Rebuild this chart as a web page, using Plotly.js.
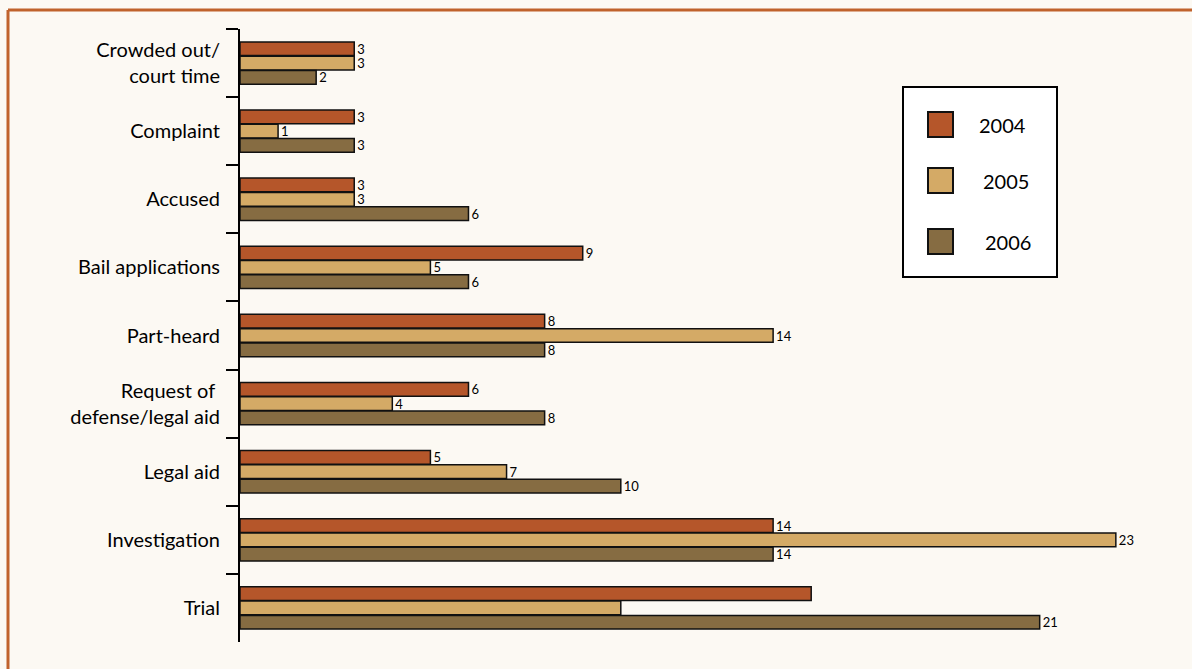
<!DOCTYPE html>
<html>
<head>
<meta charset="utf-8">
<script src="https://cdn.plot.ly/plotly-3.0.1.min.js"></script>
<style>html,body{margin:0;padding:0;background:#FCF9F3;}#chart{width:1192px;height:669px;}</style>
</head>
<body>
<div id="chart"></div>
<script>
// ---- data ----
const categories = ['Crowded out/<br>court time', 'Complaint', 'Accused', 'Bail applications', 'Part-heard',
  'Request of <br>defense/legal aid', 'Legal aid', 'Investigation', 'Trial'];
const seriesNames = ['2004', '2005', '2006'];
const values2004 = [3, 3, 3, 9, 8, 6, 5, 14, 15];
const values2005 = [3, 1, 3, 5, 14, 4, 7, 23, 10];
const values2006 = [2, 3, 6, 6, 8, 8, 10, 14, 21];
const labels2004 = ['3', '3', '3', '9', '8', '6', '5', '14', ''];
const labels2005 = ['3', '1', '3', '5', '14', '4', '7', '23', ''];
const labels2006 = ['2', '3', '6', '6', '8', '8', '10', '14', '21'];
const colors = ['#B5562A', '#D4AA66', '#866C42'];

const allValues = [values2004, values2005, values2006];
const allLabels = [labels2004, labels2005, labels2006];

const FONT = 'Lato, "Open Sans", sans-serif';

const traces = allValues.map((vals, i) => ({
  type: 'bar',
  orientation: 'h',
  name: seriesNames[i],
  x: vals,
  y: categories,
  text: allLabels[i],
  textposition: 'outside',
  cliponaxis: false,
  constraintext: 'none',
  textfont: {family: FONT, size: 13, color: '#000'},
  marker: {color: colors[i], line: {color: '#111', width: 1.5}},
  hoverinfo: 'x+y+name',
  showlegend: false
}));

// manual legend (built from series names/colors)
const plotL = 240, plotW = 952, plotT = 29, plotH = 613;
const px = v => (v - plotL) / plotW;
const py = v => (plotT + plotH - v) / plotH;

const shapes = [
  // page border
  {type: 'line', xref: 'paper', yref: 'paper', x0: px(8), x1: px(1192), y0: py(10), y1: py(10), line: {color: '#C0622C', width: 3}},
  {type: 'line', xref: 'paper', yref: 'paper', x0: px(8), x1: px(8), y0: py(10), y1: py(669), line: {color: '#C0622C', width: 3}},
  // legend box
  {type: 'rect', xref: 'paper', yref: 'paper', x0: px(903), x1: px(1057), y0: py(87), y1: py(277), line: {color: '#000', width: 2}, fillcolor: '#FFFFFF'}
];
const annotations = [];
const swatchTop = [112, 168, 229];
const textX = [1002, 1006, 1008];
seriesNames.forEach((n, i) => {
  shapes.push({type: 'rect', xref: 'paper', yref: 'paper', x0: px(928), x1: px(953), y0: py(swatchTop[i]), y1: py(swatchTop[i] + 25),
    line: {color: '#111', width: 2}, fillcolor: colors[i]});
  annotations.push({xref: 'paper', yref: 'paper', x: px(textX[i]), y: py(swatchTop[i] + 12.5), text: n, showarrow: false,
    xanchor: 'center', yanchor: 'middle', font: {family: FONT, size: 20, color: '#000'}});
});

const layout = {
  width: 1192, height: 669,
  margin: {l: plotL, r: 1192 - plotL - plotW, t: plotT, b: 669 - plotT - plotH, pad: 0},
  paper_bgcolor: '#FCF9F3',
  plot_bgcolor: 'rgba(0,0,0,0)',
  barmode: 'group',
  bargap: 0.37,
  bargroupgap: 0.04,
  showlegend: false,
  font: {family: FONT, color: '#000'},
  xaxis: {range: [0, 25], showgrid: false, zeroline: false, showticklabels: false, ticks: '', showline: false, fixedrange: true},
  yaxis: {
    type: 'category', range: [8.5, -0.5], showgrid: false, zeroline: false,
    showline: true, linecolor: '#000', linewidth: 2,
    ticks: 'outside', tickson: 'boundaries', ticklen: 12, tickwidth: 2, tickcolor: '#000',
    tickfont: {family: FONT, size: 20, color: '#000'}, ticklabelstandoff: 14, fixedrange: true
  },
  shapes: shapes,
  annotations: annotations
};

Plotly.newPlot('chart', traces, layout, {displayModeBar: false, staticPlot: false});
</script>
</body>
</html>
